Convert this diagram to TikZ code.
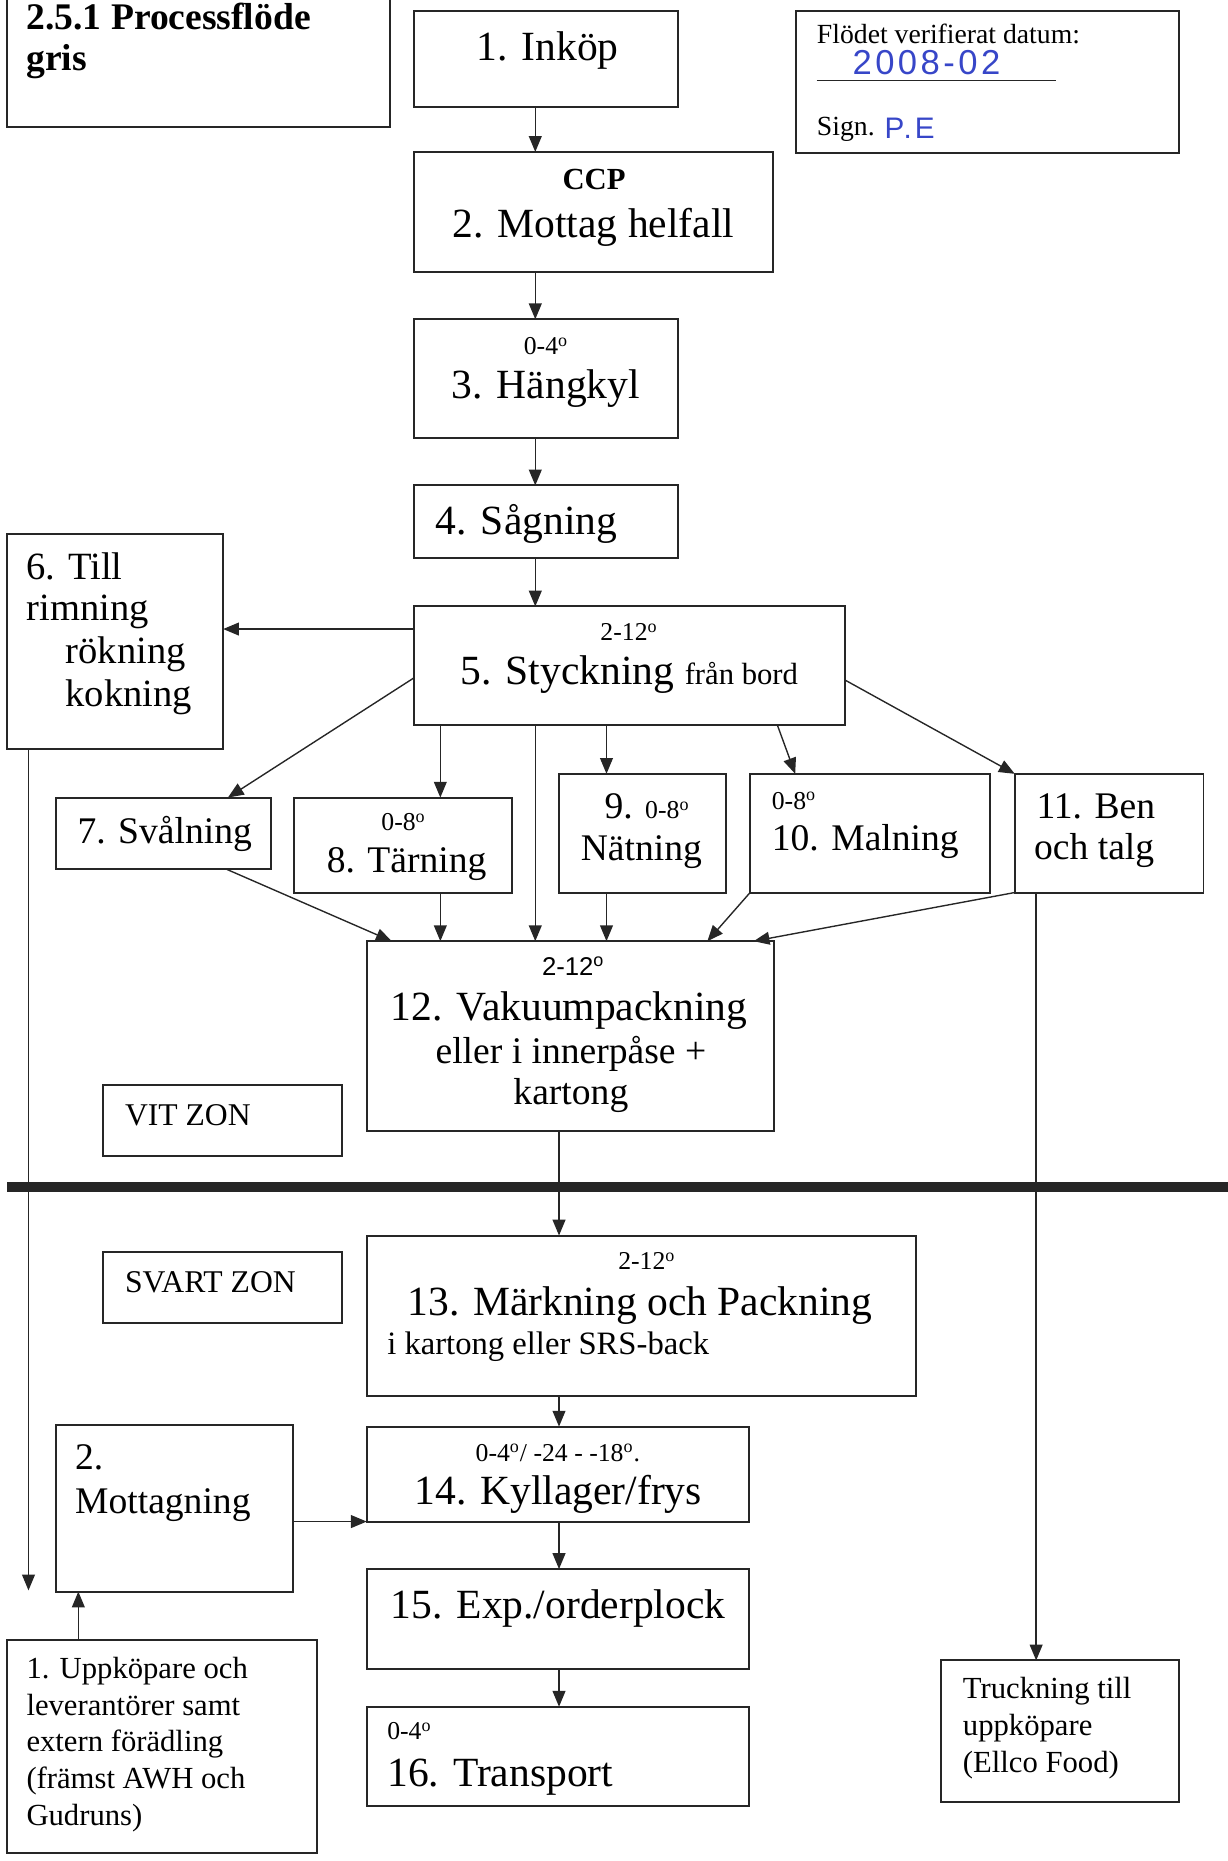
\documentclass[tikz,border=0pt]{standalone}
\usepackage{fontspec}
\setmainfont{Liberation Serif}
\newfontfamily\sansf{Liberation Sans}
\newfontfamily\handf{Liberation Sans}[LetterSpace=10]
\usetikzlibrary{arrows.meta,calc}
\definecolor{ink}{RGB}{55,70,200}
\newcommand\dg{\textsuperscript{o}}
\newcommand\bx[5]{\node[pbox,minimum width={(#4-#2)*0.6pt},minimum height={(#5-#3)*0.6pt}] (#1) at ({(#2+#4)/2},{(#3+#5)/2}) {};}
\begin{document}
\begin{tikzpicture}[x=0.6pt,y=-0.6pt,
  pbox/.style={draw=black!85,line width=1pt,rectangle,inner sep=0pt,outer sep=0pt},
  tc/.style={inner sep=0pt,anchor=base},
  tl/.style={inner sep=0pt,anchor=base west},
  fA/.style={font=\fontsize{21}{25}\selectfont},
  fB/.style={font=\fontsize{19}{23}\selectfont},
  fBB/.style={font=\fontsize{19.5}{23}\selectfont},
  fC/.style={font=\fontsize{16}{19}\selectfont},
  fD/.style={font=\fontsize{15.5}{18}\selectfont},
  fE/.style={font=\fontsize{14}{17}\selectfont},
  fS/.style={font=\fontsize{13}{15}\selectfont},
  arr/.style={draw=black!85,line width=0.7pt,-{Triangle[length=8pt,width=6.5pt]}},
  ln/.style={draw=black!85,line width=0.7pt}]
\useasboundingbox (0,0) rectangle (1034,1568);
% boxes
\bx{title}{6}{-10}{329}{107}
\bx{n1}{349}{9}{571}{90}
\bx{ver}{671}{9}{993}{129}
\bx{n2}{349}{128}{651}{229}
\bx{n3}{349}{269}{571}{369}
\bx{n4}{349}{409}{571}{470}
\bx{n5}{349}{511}{712}{611}
\bx{n6}{6}{450}{188}{631}
\bx{n7}{47}{672}{228}{732}
\bx{n8}{248}{672}{431}{752}
\bx{n9}{471}{652}{612}{752}
\bx{n10}{632}{652}{834}{752}
\bx{n11}{855}{652}{1014}{752}
\bx{n12}{309}{793}{652}{953}
\bx{vit}{87}{914}{288}{974}
\bx{svart}{87}{1055}{288}{1115}
\bx{n13}{309}{1041}{772}{1176}
\bx{nM}{47}{1201}{247}{1341}
\bx{n14}{309}{1202}{631}{1282}
\bx{n15}{309}{1322}{631}{1406}
\bx{n16}{309}{1438}{631}{1522}
\bx{nU}{6}{1382}{267}{1561}
\bx{nT}{793}{1399}{993}{1518}
% zone divider
\draw[black!85,line width=4.8pt] (6,1000) -- (1040,1000);
% texts
\node[tl,font=\bfseries\fontsize{19}{23}\selectfont] (tt1) at (22,25) {2.5.1 Processflöde};
\node[tl,font=\bfseries\fontsize{19}{23}\selectfont] (tt2) at (22,59) {gris};
\node[tc,fA] (t1) at (461.5,51) {1. Inköp};
\node[tl,fE] (v1) at (688,37) {Flödet verifierat datum:};
\node[tl,font=\handf\fontsize{17.5}{20}\selectfont,text=ink] (v2) at (718,63) {2008-02};
\draw[black!85,line width=0.6pt] (688,68) -- (890,68);
\node[tl,fE] (v3) at (688,114) {Sign.};
\node[tl,font=\handf\fontsize{15}{18}\selectfont,text=ink] (v4) at (745,117) {P.E};
\node[tc,font=\bfseries\fontsize{15.5}{18}\selectfont] (t2a) at (500.5,160) {CCP};
\node[tc,fA] (t2b) at (500,200) {2. Mottag helfall};
\node[tc,fS] (t3a) at (460,299) {0-4\dg};
\node[tc,fA] (t3b) at (460,336) {3. Hängkyl};
\node[tl,fA] (t4) at (367,450) {4. Sågning};
\node[tc,fS] (t5a) at (530,540) {2-12\dg};
\node[tl,fA] (t5b) at (388,577) {5. Styckning {\fontsize{15.5}{18}\selectfont från bord}};
\node[tl,fBB] (t6a) at (22,488) {6. Till};
\node[tl,fBB] (t6b) at (22,523) {rimning};
\node[tl,fBB] (t6c) at (55,559) {rökning};
\node[tl,fBB] (t6d) at (55,595) {kokning};
\node[tl,fB] (t7) at (65,711) {7. Svålning};
\node[tc,fS] (t8a) at (340,700) {0-8\dg};
\node[tl,fB] (t8b) at (275,735) {8. Tärning};
\node[tl,fB] (t9a) at (509,690) {9. {\fontsize{13}{15}\selectfont 0-8\dg}};
\node[tl,fB] (t9b) at (489,725) {Nätning};
\node[tl,fS] (t10a) at (650,682) {0-8\dg};
\node[tl,fB] (t10b) at (650,717) {10. Malning};
\node[tl,fB] (t11a) at (873,690) {11. Ben};
\node[tl,fB] (t11b) at (871,724) {och talg};
\node[tc,font=\sansf\fontsize{13}{15}\selectfont] (t12a) at (483,822) {2-12\dg};
\node[tl,fA] (t12b) at (329,860) {12. Vakuumpackning};
\node[tc,fB] (t12c) at (481,896) {eller i innerpåse +};
\node[tc,fB] (t12d) at (481,931) {kartong};
\node[tl,fC] (tvit) at (105,948) {VIT ZON};
\node[tl,fC] (tsv) at (105,1089) {SVART ZON};
\node[tc,fS] (t13a) at (545,1070) {2-12\dg};
\node[tl,fA] (t13b) at (343,1108) {13. Märkning och Packning};
\node[tl,font=\fontsize{16.5}{19}\selectfont] (t13c) at (326,1141) {i kartong eller SRS-back};
\node[tl,fB] (tMa) at (63,1238) {2.};
\node[tl,fB] (tMb) at (63,1275) {Mottagning};
\node[tc,fS] (t14a) at (470,1231) {0-4\dg/ -24 - -18\dg.};
\node[tl,fA] (t14b) at (349,1268) {14. Kyllager/frys};
\node[tl,fA] (t15) at (329,1364) {15. Exp./orderplock};
\node[tl,fS] (t16a) at (326,1466) {0-4\dg};
\node[tl,fA] (t16b) at (326,1505) {16. Transport};
\node[tl,fD] (tU1) at (22,1414) {1. Uppköpare och};
\node[tl,fD] (tU2) at (22,1445) {leverantörer samt};
\node[tl,fD] (tU3) at (22,1476) {extern förädling};
\node[tl,fD] (tU4) at (22,1507) {(främst AWH och};
\node[tl,fD] (tU5) at (22,1538) {Gudruns)};
\node[tl,fD] (tT1) at (811,1431) {Truckning till};
\node[tl,fD] (tT2) at (811,1462) {uppköpare};
\node[tl,fD] (tT3) at (811,1493) {(Ellco Food)};
% connectors
\coordinate (down6) at (24,1340);
\draw[arr] ($(n1.south)+(-9,0)$) -- ($(n2.north)+(-49,0)$);
\draw[arr] ($(n2.south)+(-49,0)$) -- ($(n3.north)+(-9,0)$);
\draw[arr] ($(n3.south)+(-9,0)$) -- ($(n4.north)+(-9,0)$);
\draw[arr] ($(n4.south)+(-9,0)$) -- ($(n5.north)+(-79.5,0)$);
\draw[arr] ($(n5.west)+(0,-31)$) -- ($(n6.east)+(0,-10.5)$);
\draw[arr] ($(n5.west)+(0,10)$) -- ($(n7.north)+(54.5,0)$);
\draw[arr] ($(n5.south)+(-159.5,0)$) -- ($(n8.north)+(31.5,0)$);
\draw[arr] ($(n5.south)+(-79.5,0)$) -- ($(n12.north)+(-29.5,0)$);
\draw[arr] ($(n5.south)+(-19.5,0)$) -- ($(n9.north)+(-30.5,0)$);
\draw[arr] ($(n5.south)+(124.5,0)$) -- ($(n10.north)+(-63,0)$);
\draw[arr] ($(n5.east)+(0,12)$) -- (n11.north west);
\draw[arr] ($(n7.south)+(52.5,0)$) -- ($(n12.north west)+(21,0)$);
\draw[arr] ($(n8.south)+(31.5,0)$) -- ($(n12.north)+(-109.5,0)$);
\draw[arr] ($(n9.south)+(-30.5,0)$) -- ($(n12.north)+(30.5,0)$);
\draw[arr] (n10.south west) -- ($(n12.north)+(115.5,0)$);
\draw[arr] (n11.south west) -- ($(n12.north east)+(-17,0)$);
\draw[arr] ($(n12.south)+(-9.5,0)$) -- ($(n13.north)+(-69.5,0)$);
\draw[arr] ($(n11.south)+(-61.5,0)$) -- ($(nT.north)+(-20,0)$);
\draw[arr] ($(n6.south)+(-73,0)$) -- (down6);
\draw[arr] ($(n13.south)+(-69.5,0)$) -- ($(n14.north)+(1,0)$);
\draw[arr] ($(nM.east)+(0,11)$) -- (n14.south west);
\draw[arr] ($(nU.north)+(-70.5,0)$) -- ($(nM.south)+(-81,0)$);
\draw[arr] ($(n14.south)+(1,0)$) -- ($(n15.north)+(1,0)$);
\draw[arr] ($(n15.south)+(1,0)$) -- ($(n16.north)+(1,0)$);
\end{tikzpicture}
\end{document}
